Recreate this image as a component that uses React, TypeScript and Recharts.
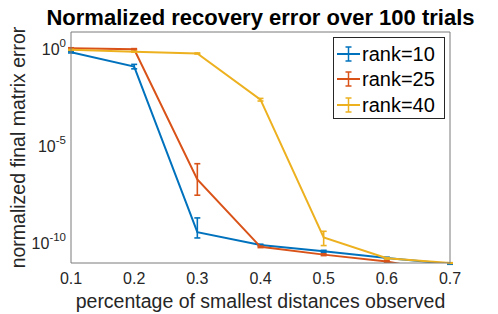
import React from 'react';
import { LineChart, Line, XAxis, YAxis, ErrorBar, Legend } from 'recharts';

const fractions = [0.1, 0.2, 0.3, 0.4, 0.5, 0.6, 0.7];
const seriesNames = ['rank=10', 'rank=25', 'rank=40'];
const seriesColors = ['#0072BD', '#D95319', '#EDB120'];

const rank10 = [0.72, 0.13, 3.9e-10, 8.5e-11, 4.0e-11, 1.8e-11, 9.0e-12];
const rank10Lower = [0.66, 0.1, 1.95e-10, 7.8e-11, 3.6e-11, 1.65e-11, 8.6e-12];
const rank10Upper = [0.78, 0.17, 2.1e-9, 9.3e-11, 4.5e-11, 2.0e-11, 9.4e-12];

const rank25 = [1.15, 1.02, 2.0e-7, 6.8e-11, 2.7e-11, 1.2e-11, 3.0e-12];
const rank25Lower = [1.08, 0.95, 3.1e-8, 6.2e-11, 2.4e-11, 1.1e-11, null];
const rank25Upper = [1.22, 1.1, 1.3e-6, 7.4e-11, 3.0e-11, 1.3e-11, null];

const rank40 = [0.95, 0.76, 0.62, 2.6e-3, 2.1e-10, 1.75e-11, 1.0e-11];
const rank40Lower = [0.9, 0.72, 0.58, 2.2e-3, 7.9e-11, 1.6e-11, 0.96e-11];
const rank40Upper = [1.0, 0.8, 0.66, 3.0e-3, 4.3e-10, 1.9e-11, 1.04e-11];

const xTicks = [0.1, 0.2, 0.3, 0.4, 0.5, 0.6, 0.7];
const yTicks = [1e-11, 1e-10, 1e-9, 1e-8, 1e-7, 1e-6, 1e-5, 1e-4, 1e-3, 1e-2, 1e-1, 1e0];
const yDomain = [1e-11, 7.9];
const xDomain = [0.1, 0.7];

const titleText = 'Normalized recovery error over 100 trials';
const xLabelText = 'percentage of smallest distances observed';
const yLabelText = 'normalized final matrix error';

const FONT = '"Liberation Sans", Arial, Helvetica, sans-serif';
const AXIS = '#7a7a7a';
const TEXT = '#262626';

const errPair = (v: number, lo: number | null, hi: number | null) =>
  lo == null || hi == null ? null : [v - lo, hi - v];

const data = fractions.map((f, i) => ({
  f,
  r10: rank10[i],
  r10e: errPair(rank10[i], rank10Lower[i], rank10Upper[i]),
  r25: rank25[i],
  r25e: errPair(rank25[i], rank25Lower[i], rank25Upper[i]),
  r40: rank40[i],
  r40e: errPair(rank40[i], rank40Lower[i], rank40Upper[i]),
}));

const YTick = (props: any) => {
  const { x, y, payload } = props;
  const exp = Math.round(Math.log10(payload.value));
  if (Math.abs(exp) % 5 !== 0) return <g />;
  return (
    <text x={x} y={y} textAnchor="end" fill={TEXT} fontFamily={FONT} fontSize={16} dy="0.35em">
      10
      <tspan dy={-8} fontSize={11.5}>{exp === 0 ? '0' : String(exp)}</tspan>
    </text>
  );
};

const LegendBox = () => (
  <div
    style={{
      width: 110,
      height: 77,
      border: '1px solid #262626',
      background: '#fff',
      boxSizing: 'content-box',
      paddingTop: 3,
      fontFamily: FONT,
    }}
  >
    {seriesNames.map((name, i) => (
      <div key={name} style={{ display: 'flex', alignItems: 'center', height: 25.5 }}>
        <svg width={26} height={20} style={{ marginLeft: 2 }}>
          <line x1={1} y1={10} x2={24} y2={10} stroke={seriesColors[i]} strokeWidth={2} />
          <line x1={12.5} y1={3} x2={12.5} y2={17} stroke={seriesColors[i]} strokeWidth={1.5} />
          <line x1={9.5} y1={3} x2={15.5} y2={3} stroke={seriesColors[i]} strokeWidth={1.5} />
          <line x1={9.5} y1={17} x2={15.5} y2={17} stroke={seriesColors[i]} strokeWidth={1.5} />
        </svg>
        <span style={{ fontSize: 20, color: '#000', marginLeft: 0, lineHeight: '20px' }}>{name}</span>
      </div>
    ))}
  </div>
);

const keys = [
  ['r10', 'r10e'],
  ['r25', 'r25e'],
  ['r40', 'r40e'],
];

export default function App() {
  return (
    <div style={{ position: 'absolute', left: 0, top: 0, width: 498, height: 314, background: '#fff' }}>
      <LineChart width={498} height={314} data={data} margin={{ top: 32, right: 48, bottom: 0, left: 0 }}>
        <XAxis
          xAxisId="x"
          dataKey="f"
          type="number"
          domain={xDomain}
          ticks={xTicks}
          interval={0}
          allowDataOverflow
          height={51}
          tickSize={0}
          tickMargin={10}
          tickLine={false}
          axisLine={{ stroke: AXIS }}
          tick={{ fill: TEXT, fontSize: 16, fontFamily: FONT }}
          tickFormatter={(v: number) => v.toFixed(1)}
        />
        <XAxis
          xAxisId="xin"
          dataKey="f"
          type="number"
          domain={xDomain}
          ticks={xTicks}
          interval={0}
          allowDataOverflow
          orientation="bottom"
          mirror
          tick={false}
          axisLine={false}
          tickSize={4}
          tickLine={{ stroke: AXIS }}
        />
        <XAxis
          xAxisId="xtop"
          dataKey="f"
          type="number"
          domain={xDomain}
          ticks={xTicks}
          interval={0}
          allowDataOverflow
          orientation="top"
          mirror
          tick={false}
          axisLine={{ stroke: AXIS }}
          tickSize={4}
          tickLine={{ stroke: AXIS }}
        />
        <YAxis
          yAxisId="y"
          type="number"
          scale="log"
          domain={yDomain}
          ticks={yTicks}
          interval={0}
          allowDataOverflow
          width={71}
          tickSize={0}
          tickMargin={5}
          tickLine={false}
          axisLine={{ stroke: AXIS }}
          tick={<YTick />}
        />
        <YAxis
          yAxisId="yin"
          type="number"
          scale="log"
          domain={yDomain}
          ticks={yTicks}
          interval={0}
          allowDataOverflow
          orientation="left"
          mirror
          tick={false}
          axisLine={false}
          tickSize={4}
          tickLine={{ stroke: AXIS }}
        />
        <YAxis
          yAxisId="yr"
          type="number"
          scale="log"
          domain={yDomain}
          ticks={yTicks}
          interval={0}
          allowDataOverflow
          orientation="right"
          mirror
          tick={false}
          axisLine={{ stroke: AXIS }}
          tickSize={4}
          tickLine={{ stroke: AXIS }}
        />
        {keys.map(([k, e], i) => (
          <Line
            key={k}
            xAxisId="x"
            yAxisId="y"
            dataKey={k}
            name={seriesNames[i]}
            stroke={seriesColors[i]}
            strokeWidth={2}
            dot={false}
            activeDot={false}
            isAnimationActive={false}
            type="linear"
          >
            <ErrorBar dataKey={e} width={3} strokeWidth={1.6} stroke={seriesColors[i]} direction="y" />
          </Line>
        ))}
        <Legend
          layout="vertical"
          align="center"
          verticalAlign="middle"
          content={<LegendBox />}
          wrapperStyle={{ position: 'absolute', left: 333, top: 37, width: 112, height: 81 }}
        />
      </LineChart>
      <svg
        width={498}
        height={314}
        style={{ position: 'absolute', left: 0, top: 0, pointerEvents: 'none' }}
      >
        <text x={260.5} y={25} textAnchor="middle" fontFamily={FONT} fontWeight="bold" fontSize={22} fill="#000">
          {titleText}
        </text>
        <text x={260.5} y={308} textAnchor="middle" fontFamily={FONT} fontSize={19.5} fill={TEXT}>
          {xLabelText}
        </text>
        <text
          x={25}
          y={147.5}
          textAnchor="middle"
          fontFamily={FONT}
          fontSize={19.5}
          fill={TEXT}
          transform="rotate(-90 25 147.5)"
        >
          {yLabelText}
        </text>
      </svg>
    </div>
  );
}
